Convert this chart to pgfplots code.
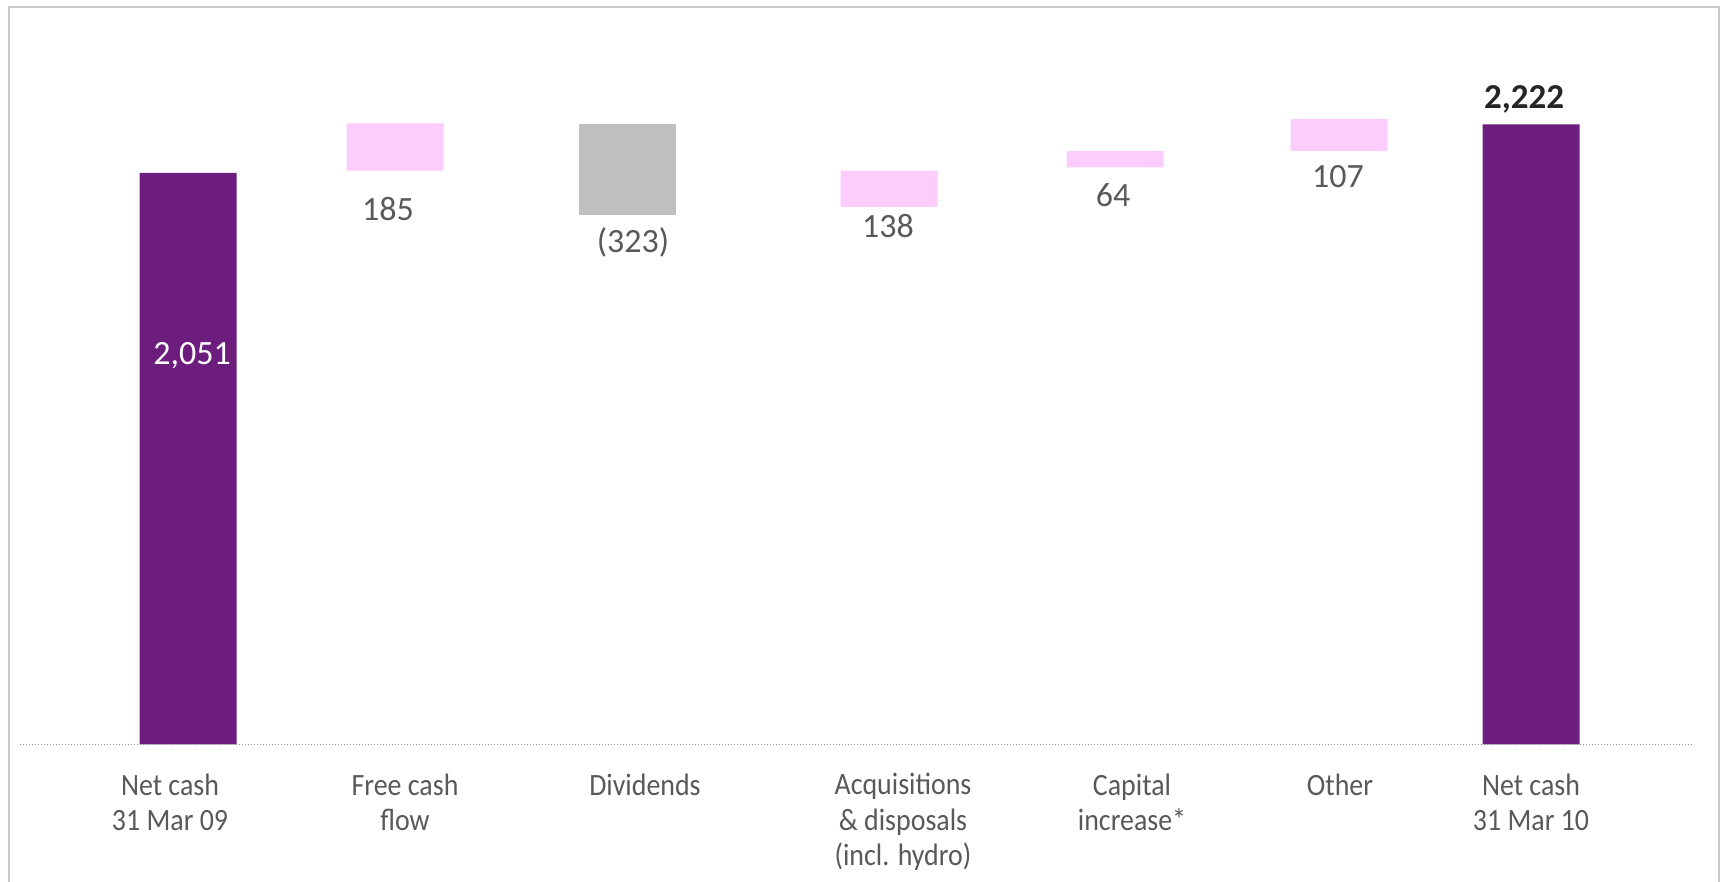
\documentclass[border=0pt]{standalone}
\usepackage{pgfplots}
\pgfplotsset{compat=1.18}
\usepackage{fontspec}
\setmainfont{Carlito}
\newfontfamily\catfont[FakeStretch=0.9]{Carlito}
\definecolor{ePurple}{HTML}{6D1D7D}
\definecolor{ePink}{HTML}{FCCCFC}
\definecolor{eGray}{HTML}{BFBFBF}
\definecolor{txtGray}{HTML}{595959}
\definecolor{darkTxt}{HTML}{262626}
\definecolor{frameGray}{HTML}{C8C8C8}
\newcommand\lblfont{\fontsize{17}{20}\selectfont}
\tikzset{vlab/.style={text=txtGray, font=\lblfont}}
\begin{document}
\begin{tikzpicture}[x=0.5pt,y=0.5pt]
\path[use as bounding box] (0,0) rectangle (1727,882);
\draw[frameGray, line width=1pt] (9,-5) -- (9,875) -- (1719,875) -- (1719,-5);
\begin{axis}[
  at={(0pt,68.75pt)}, anchor=origin, scale only axis,
  width=863.5pt, height=322.25pt,
  xmin=0, xmax=1727, ymin=0, ymax=2312.5,
  clip=false, axis line style={draw=none},
  ytick=\empty,
  xtick={170,405,645,903,1132,1340,1531},
  xticklabels={{Net cash\\31 Mar 09},{Free cash\\flow},{Dividends},{Acquisitions\\\& disposals\\(incl. hydro)},{Capital\\increase*},{Other},{Net cash\\31 Mar 10}},
  major tick length=0pt,
  xticklabel style={align=center, anchor=north, yshift=-11pt, text=txtGray, font=\catfont\fontsize{15.5}{17.6}\selectfont},
  ybar stacked, bar width=97,
]
\addplot[draw=none, fill=none] coordinates {(188,0) (395,2059) (627,1901) (889,1929) (1115,2071) (1339,2130) (1531,0)};
\addplot[draw=none, fill=ePurple] coordinates {(188,2051) (395,0) (627,0) (889,0) (1115,0) (1339,0) (1531,2225)};
\addplot[draw=none, fill=ePink] coordinates {(188,0) (395,170) (627,0) (889,130) (1115,59) (1339,115) (1531,0)};
\addplot[draw=none, fill=eGray] coordinates {(188,0) (395,0) (627,324) (889,0) (1115,0) (1339,0) (1531,0)};
\coordinate (b0) at (axis cs:20,0);
\coordinate (b1) at (axis cs:1693,0);
\coordinate (l1) at (axis cs:388,1921);
\coordinate (l2) at (axis cs:633,1803);
\coordinate (l3) at (axis cs:888,1860);
\coordinate (l4) at (axis cs:1113,1972);
\coordinate (l5) at (axis cs:1338,2036);
\coordinate (l6) at (axis cs:192,1394);
\coordinate (l7) at (axis cs:1524,2316);
\end{axis}
\draw[gray!80, line width=0.6pt, dash pattern=on 0.6pt off 0.9pt] (b0) -- (b1);
\node[vlab] at (l1) {185};
\node[vlab] at (l2) {(323)};
\node[vlab] at (l3) {138};
\node[vlab] at (l4) {64};
\node[vlab] at (l5) {107};
\node[text=white, font=\lblfont] at (l6) {2,051};
\node[text=darkTxt, font=\fontsize{17.5}{20}\selectfont\bfseries] at (l7) {2,222};
\end{tikzpicture}
\end{document}
